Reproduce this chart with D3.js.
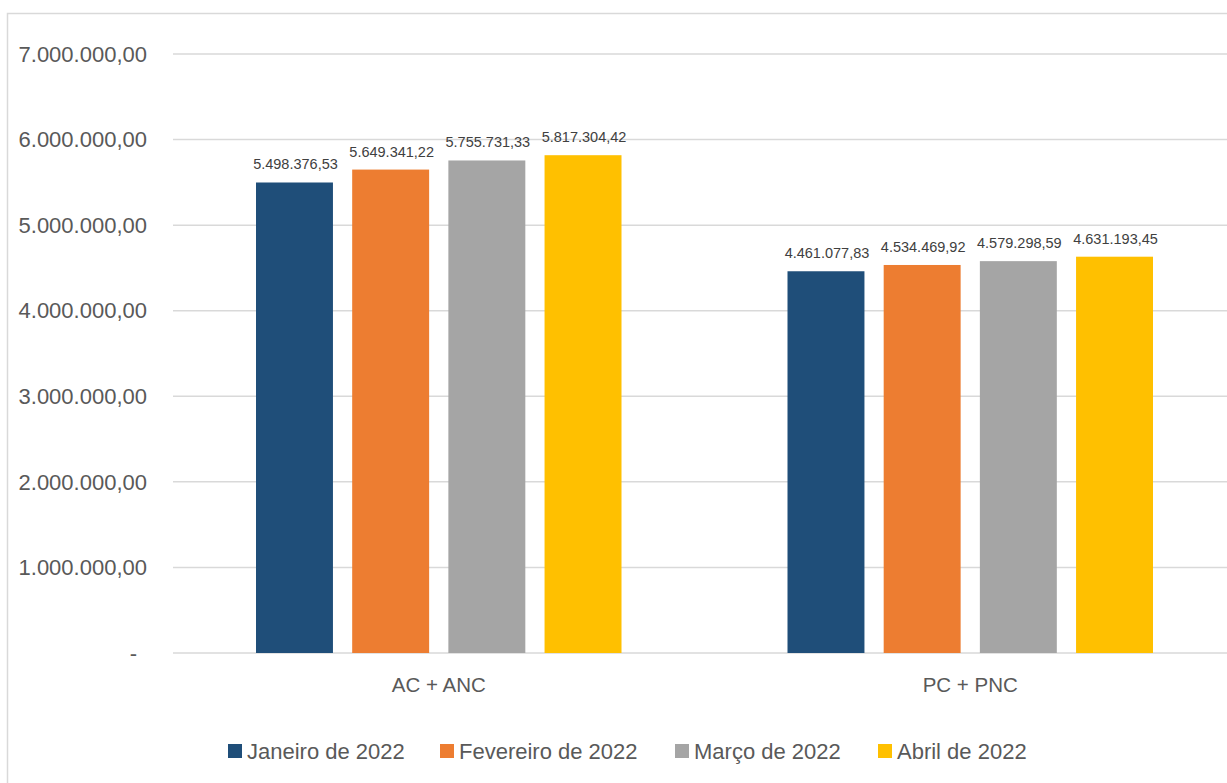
<!DOCTYPE html>
<html><head><meta charset="utf-8">
<script src="https://cdn.jsdelivr.net/npm/d3@7"></script>
<style>body{margin:0;background:#fff;} svg{display:block;font-family:"Liberation Sans",Arial,sans-serif;}</style>
</head><body>
<svg id="c" width="1227" height="783"></svg>
<script>
const categories = ["AC + ANC", "PC + PNC"];
const seriesNames = ["Janeiro de 2022", "Fevereiro de 2022", "Março de 2022", "Abril de 2022"];
const seriesColors = ["#1F4E79", "#ED7D31", "#A5A5A5", "#FFC000"];
const janeiro = [5498376.53, 4461077.83];
const fevereiro = [5649341.22, 4534469.92];
const marco = [5755731.33, 4579298.59];
const abril = [5817304.42, 4631193.45];
const yTicks = [0, 1000000, 2000000, 3000000, 4000000, 5000000, 6000000, 7000000];

const series = [janeiro, fevereiro, marco, abril];
const svg = d3.select("#c");
const W = 1227, H = 783;

// chart area border
svg.append("rect").attr("x", 7.5).attr("y", 13.5).attr("width", 1240).attr("height", 800)
  .attr("fill", "none").attr("stroke", "#d9d9d9").attr("stroke-width", 1.5);

const x0 = d3.scaleBand().domain(categories).range([173, 1236]).paddingInner(0).paddingOuter(0);
const x1 = d3.scaleBand().domain(d3.range(4)).range([83, 531.5 - 83]).paddingInner(0.2).paddingOuter(0);
const y = d3.scaleLinear().domain([0, 7000000]).range([653, 54]);

const fmt = d3.formatLocale({decimal: ",", thousands: ".", grouping: [3], currency: ["", ""]}).format(",.2f");

// gridlines
svg.append("g").selectAll("line").data(yTicks).join("line")
  .attr("x1", 173).attr("x2", W).attr("y1", d => y(d)).attr("y2", d => y(d))
  .attr("stroke", "#d9d9d9").attr("stroke-width", 1.5);

// y tick labels
svg.append("g").selectAll("text").data(yTicks).join("text")
  .attr("x", d => d === 0 ? 137 : 147).attr("y", d => y(d)).attr("dy", "0.35em")
  .attr("text-anchor", "end").attr("fill", "#595959").attr("font-size", 22)
  .text(d => d === 0 ? "-" : fmt(d));

// bars
const g = svg.append("g");
categories.forEach((cat, ci) => {
  series.forEach((s, si) => {
    const bx = x0(cat) + x1(si);
    g.append("rect").attr("x", bx).attr("y", y(s[ci])).attr("width", x1.bandwidth())
      .attr("height", y(0) - y(s[ci])).attr("fill", seriesColors[si]);
    g.append("text").attr("x", bx + x1.bandwidth() / 2 + 1).attr("y", y(s[ci]) - 13)
      .attr("text-anchor", "middle").attr("fill", "#404040").attr("font-size", 14.5)
      .text(fmt(s[ci]));
  });
});

// category labels
svg.append("g").selectAll("text").data(categories).join("text")
  .attr("x", d => x0(d) + x0.bandwidth() / 2).attr("y", 692)
  .attr("text-anchor", "middle").attr("fill", "#595959").attr("font-size", 20.5)
  .text(d => d);

// legend
const legX = [228, 440, 675, 878];
const leg = svg.append("g");
seriesNames.forEach((n, i) => {
  leg.append("rect").attr("x", legX[i]).attr("y", 744).attr("width", 14).attr("height", 14)
    .attr("fill", seriesColors[i]);
  leg.append("text").attr("x", legX[i] + 19).attr("y", 751).attr("dy", "0.35em")
    .attr("fill", "#595959").attr("font-size", 22).text(n);
});
</script>
</body></html>
